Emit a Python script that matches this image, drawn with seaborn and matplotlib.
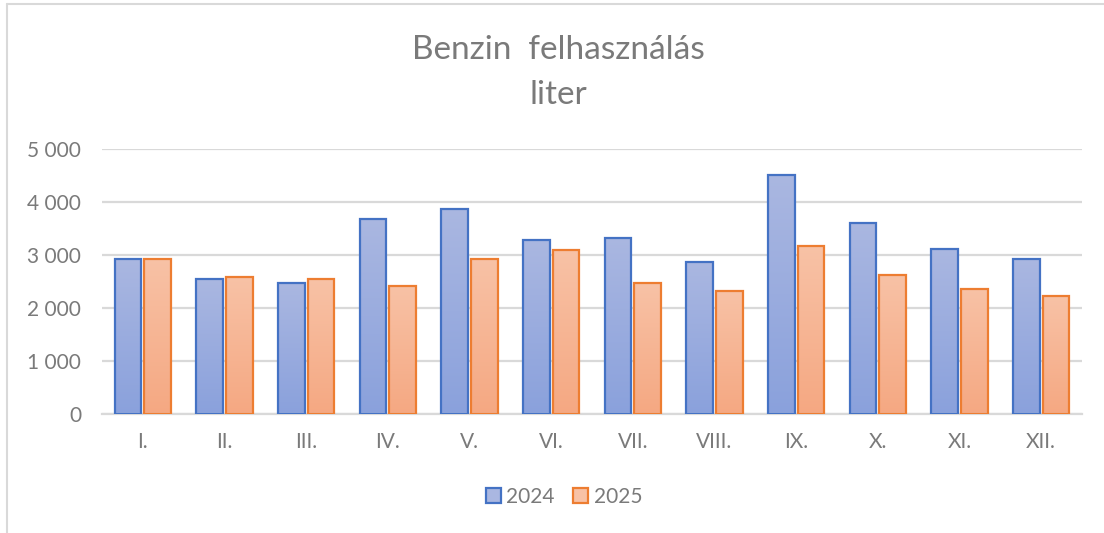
"""
Benzin felhasználás havonta, 2024 vs 2025 (Excel-stílusú oszlopdiagram).
"""

import matplotlib
matplotlib.use("Agg")

import matplotlib.pyplot as plt
import numpy as np
import pandas as pd
import seaborn as sns
from matplotlib.colors import LinearSegmentedColormap
from matplotlib.lines import Line2D
from matplotlib.patches import Patch
from matplotlib.ticker import FuncFormatter, MultipleLocator


MONTHS = ["I.", "II.", "III.", "IV.", "V.", "VI.", "VII.", "VIII.", "IX.", "X.", "XI.", "XII."]
YEARS = ["2024", "2025"]
VALUES_2024 = [2930, 2545, 2465, 3685, 3860, 3280, 3325, 2860, 4505, 3605, 3115, 2925]
VALUES_2025 = [2930, 2580, 2545, 2420, 2930, 3085, 2470, 2325, 3165, 2630, 2365, 2220]

EDGE = {"2024": "#4472c4", "2025": "#ed7d31"}
GRAD = {
    "2024": ("#aab7e1", "#8aa1dc"),   # fent, lent
    "2025": ("#f8c2a6", "#f5a882"),
}
TEXT = "#7a7a7a"
GRID = "#d9d9d9"

sns.set_theme(style="white")
plt.rcParams["font.family"] = ["Lato", "DejaVu Sans"]

df = pd.DataFrame({
    "honap": MONTHS * 2,
    "ev": [YEARS[0]] * len(MONTHS) + [YEARS[1]] * len(MONTHS),
    "liter": VALUES_2024 + VALUES_2025,
})

fig = plt.figure(figsize=(11.04, 5.33), dpi=100)
ax = fig.add_axes([102 / 1104, 1 - 414 / 533, (1082 - 102) / 1104, (414 - 149) / 533])

sns.barplot(
    data=df, x="honap", y="liter", hue="ev", order=MONTHS, hue_order=YEARS,
    width=0.73, gap=0.1, palette=EDGE, ax=ax, legend=False, zorder=2,
)

# színátmenetes kitöltés minden oszlopra
grad_img = np.linspace(1, 0, 256).reshape(-1, 1)
for container, year in zip(ax.containers, YEARS):
    cmap = LinearSegmentedColormap.from_list(year, [GRAD[year][1], GRAD[year][0]])
    for bar in container:
        x0, y0 = bar.get_x(), bar.get_y()
        w, h = bar.get_width(), bar.get_height()
        img = ax.imshow(grad_img, extent=[x0, x0 + w, y0, y0 + h], aspect="auto",
                        cmap=cmap, vmin=0, vmax=1, zorder=2, origin="upper")
        img.set_clip_path(bar)
        bar.set_facecolor("none")
        bar.set_edgecolor(EDGE[year])
        bar.set_linewidth(1.6)
        bar.set_zorder(3)

ax.set_xlim(-0.5, len(MONTHS) - 0.5)
ax.set_ylim(0, 5000)
ax.yaxis.set_major_locator(MultipleLocator(1000))
ax.yaxis.set_major_formatter(FuncFormatter(lambda v, _: f"{int(v):,}".replace(",", " ")))
ax.grid(axis="y", color=GRID, linewidth=1.6, zorder=0)
ax.set_axisbelow(True)
for side in ["left", "right", "top"]:
    ax.spines[side].set_visible(False)
ax.spines["bottom"].set_color(GRID)
ax.spines["bottom"].set_linewidth(1.6)
ax.tick_params(axis="both", length=0, labelsize=15, colors=TEXT)
ax.tick_params(axis="y", pad=15)
ax.tick_params(axis="x", pad=13)
ax.set_xlabel("")
ax.set_ylabel("")

fig.text(558 / 1104, 1 - 50 / 533, "Benzin  felhasználás", ha="center", va="center",
         fontsize=24, color=TEXT)
fig.text(558 / 1104, 1 - 95 / 533, "liter", ha="center", va="center",
         fontsize=24, color=TEXT)

handles = [Patch(facecolor=GRAD[y][0], edgecolor=EDGE[y], linewidth=1.6) for y in YEARS]
fig.legend(handles, YEARS, loc="center", bbox_to_anchor=(564 / 1104, 1 - 497 / 533),
           ncol=2, frameon=False, fontsize=15, labelcolor=TEXT, handlelength=0.72,
           handleheight=0.72, handletextpad=0.25, columnspacing=0.9)

# a diagramterület kerete (bal és felső szél)
fig.add_artist(Line2D([7 / 1104, 7 / 1104], [0, 1 - 4 / 533], transform=fig.transFigure,
                      color=GRID, linewidth=1.5))
fig.add_artist(Line2D([7 / 1104, 1], [1 - 4 / 533, 1 - 4 / 533], transform=fig.transFigure,
                      color=GRID, linewidth=1.5))

fig.savefig("out.png", dpi=100)
